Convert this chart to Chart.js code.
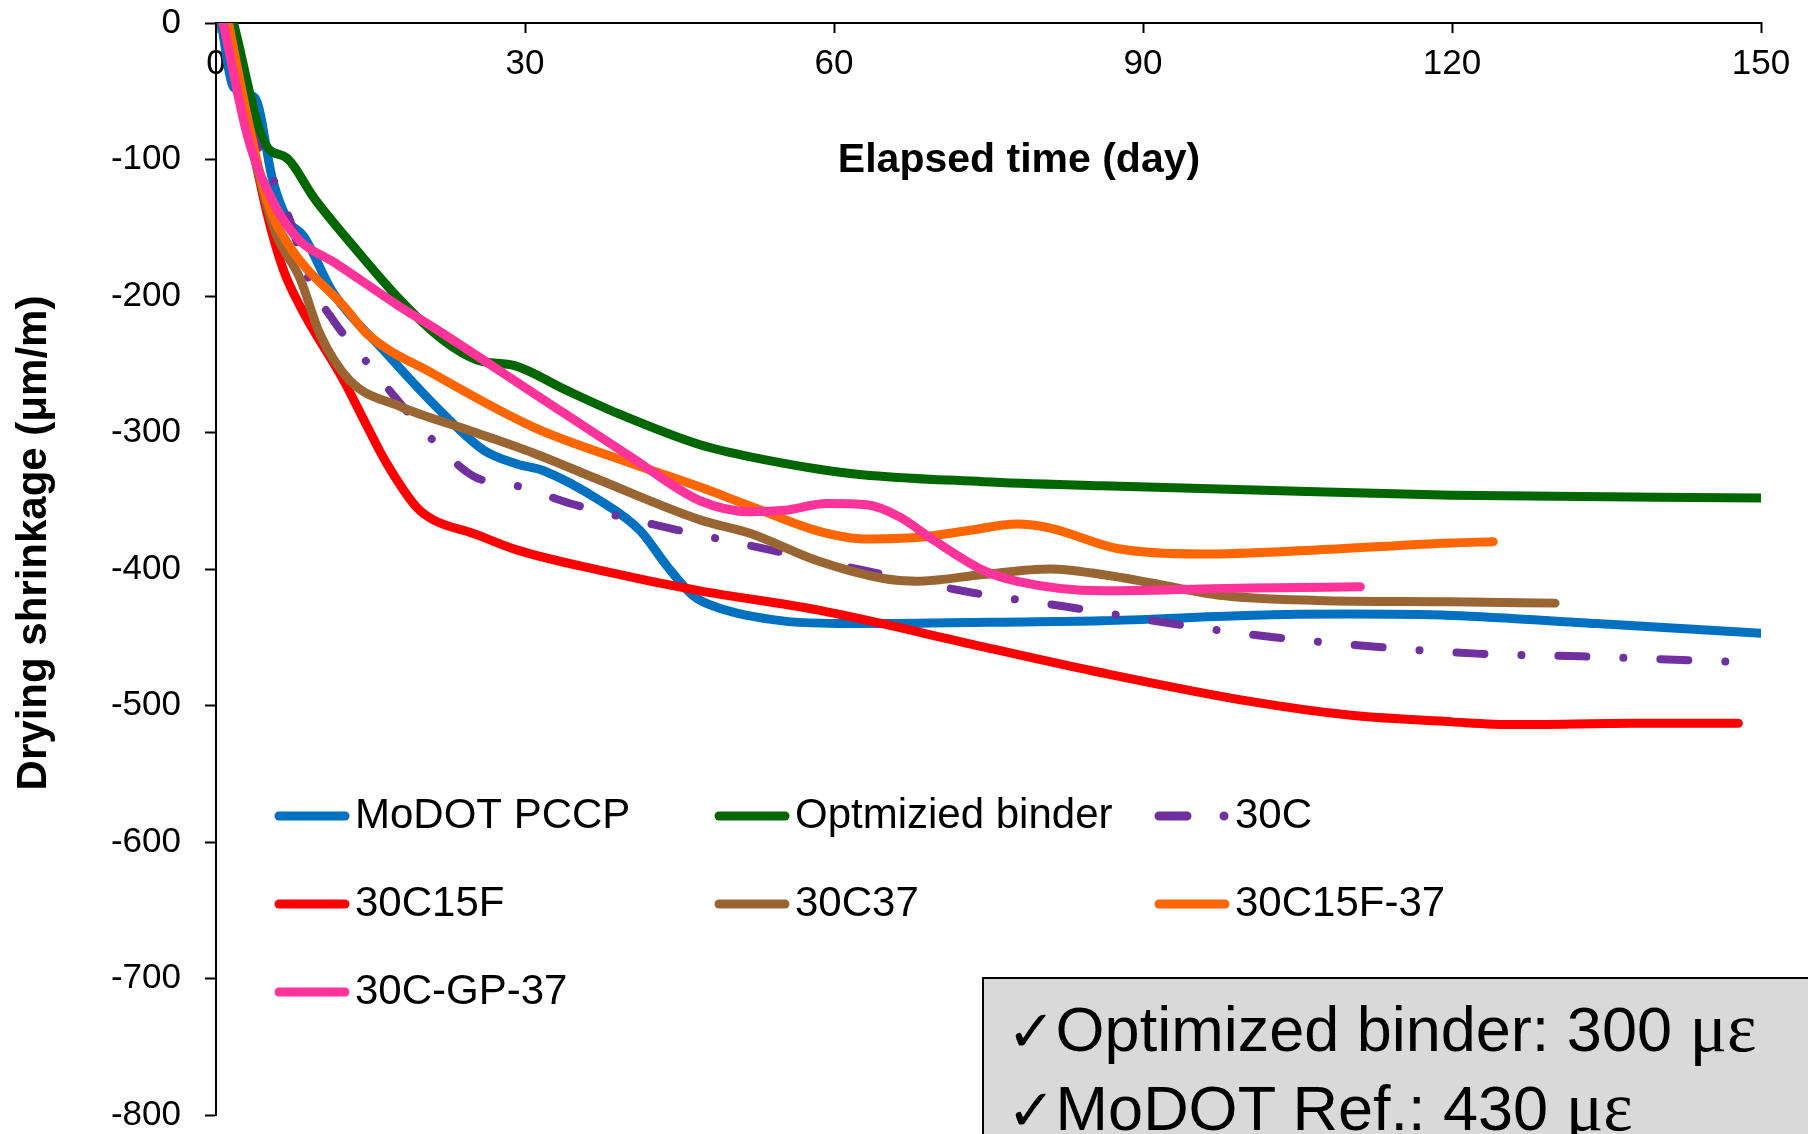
<!DOCTYPE html>
<html>
<head>
<meta charset="utf-8">
<title>Drying shrinkage</title>
<script src="https://cdn.jsdelivr.net/npm/chart.js@4.4.0/dist/chart.umd.min.js"></script>
<style>
  html, body { margin: 0; padding: 0; background: #fff; overflow: hidden; }
  #wrap { position: relative; width: 1808px; height: 1134px; overflow: hidden; }
  #noteBox {
    position: absolute; left: 982px; top: 977px; width: 900px; height: 240px;
    box-sizing: border-box; background: #d9d9d9; border: 2px solid #000;
    padding: 11px 0 0 23px; color: #000; white-space: nowrap;
    font-family: 'Liberation Sans', Arial, sans-serif; font-size: 63px; line-height: 76px;
  }
  #noteBox .chk { font-family: 'DejaVu Sans', sans-serif; font-size: 58px; }
  #noteBox .unit { font-family: 'Liberation Serif', 'Times New Roman', serif; font-size: 70px; }
</style>
</head>
<body>
<div id="wrap">
  <canvas id="shrinkChart" width="1808" height="1134"></canvas>
  <div id="noteBox">
    <div><span class="chk">✓</span>Optimized binder: 300 <span class="unit">με</span></div>
    <div><span class="chk">✓</span>MoDOT Ref.: 430 <span class="unit">με</span></div>
  </div>
</div>
<script>
const FONT = "'Liberation Sans', Arial, sans-serif";

// axis ticks
const dayTicks = [0, 30, 60, 90, 120, 150];
const shrinkTicks = [0, -100, -200, -300, -400, -500, -600, -700, -800];

const seriesNames = ['MoDOT PCCP', 'Optmizied binder', '30C', '30C15F', '30C37', '30C15F-37', '30C-GP-37'];

// elapsed days / shrinkage (µm/m) for each mix
const modotDays = [0.5, 1.7, 3.8, 5.5, 7, 8.5, 11.4, 16.3, 21.1, 26, 29.2, 31.8, 37.3, 41.2, 43.8, 46.4, 48.6, 55, 61.6, 75, 86, 100, 110, 120, 134, 150];
const modotVals = [0, -47, -55, -115, -145, -156, -198, -240, -279, -313, -323, -328, -350, -372, -398, -420, -428, -438, -440, -439, -438, -434, -433, -434, -440, -447];

const optDays = [1.7, 4.8, 6.9, 9.5, 13.5, 17.9, 22, 25.4, 29, 34, 39, 47, 52, 61.6, 74.5, 86, 100, 120, 150];
const optVals = [0, -89, -99, -128, -165, -203, -232, -247, -251, -269, -286, -309, -318, -330, -336, -339, -342, -346, -348];

const c30Days = [0.7, 3, 5.7, 7.2, 8.9, 11.4, 14.7, 17.6, 21.1, 25, 29.7, 34.4, 44, 53.8, 63.5, 73.2, 82.9, 92.8, 102.7, 112.6, 122.4, 132.4, 147.3];
const c30Vals = [0, -70, -117, -145, -186, -218, -249, -276, -306, -332, -340, -352, -370, -386, -402, -417, -428, -440, -450, -457, -462, -464, -468];

const c30f15Days = [0.7, 2.2, 3.7, 5, 6.5, 8.2, 12.4, 14.7, 16.6, 19.5, 21.1, 25, 29.2, 37.3, 47, 58.4, 74.5, 86, 100.4, 110, 120, 126, 137.6, 147.8];
const c30f15Vals = [0, -50, -97, -141, -180, -208, -262, -296, -323, -355, -364, -374, -386, -401, -416, -430, -457, -476, -497, -507, -512, -514, -513, -513];

const c30s37Days = [1.2, 3.5, 5.6, 8.2, 10.1, 13, 17.9, 24.4, 30.8, 37.3, 47, 51.9, 58.4, 64.8, 68, 74.5, 81, 86, 90.7, 97.2, 106.9, 119.8, 130];
const c30s37Vals = [0, -90, -150, -188, -228, -262, -281, -298, -315, -335, -364, -374, -394, -407, -409, -404, -400, -404, -410, -419, -423, -424, -425];

const c30f15s37Days = [1.2, 3.5, 5, 7, 12.7, 14.7, 21.1, 30.8, 40.5, 47, 51.9, 58.4, 63.2, 68, 72.9, 77.8, 81, 87.5, 95.6, 106.9, 119.8, 124];
const c30f15s37Vals = [0, -85, -131, -162, -210, -228, -257, -296, -323, -340, -354, -372, -378, -377, -372, -367, -370, -385, -389, -386, -381, -380];

const gpDays = [0.7, 3.1, 5.9, 8.2, 11.4, 17.9, 21.1, 30.8, 40.5, 47, 51.9, 55.2, 59.3, 63.2, 66.4, 69.7, 74.5, 77.8, 86, 100.4, 111.1];
const gpVals = [0, -84, -136, -160, -175, -208, -223, -271, -319, -350, -358, -357, -352, -353, -362, -379, -401, -409, -416, -414, -413];

const seriesDays = [modotDays, optDays, c30Days, c30f15Days, c30s37Days, c30f15s37Days, gpDays];
const seriesVals = [modotVals, optVals, c30Vals, c30f15Vals, c30s37Vals, c30f15s37Vals, gpVals];

const seriesColors = ['#0070C0', '#006600', '#7030A0', '#FF0000', '#996633', '#FF6600', '#FF3399'];
const dashDot = [28, 37, 0.01, 37];

const datasets = seriesNames.map((name, i) => ({
    label: name,
    data: seriesDays[i].map((d, k) => ({ x: d, y: seriesVals[i][k] })),
    borderColor: seriesColors[i],
    borderWidth: i === 2 ? 8 : 9,
    borderDash: i === 2 ? dashDot : [],
    borderCapStyle: 'round',
    borderJoinStyle: 'round',
    cubicInterpolationMode: 'monotone',
    pointRadius: 0,
    fill: false,
    order: seriesNames.length - i   // last series ends up on top
}));

// legend laid out in three fixed columns inside the plot
const gridLegend = {
    id: 'gridLegend',
    afterDraw(chart) {
        const { ctx, chartArea } = chart;
        ctx.save();
        ctx.font = '42px ' + FONT;
        ctx.textBaseline = 'middle';
        ctx.textAlign = 'left';
        chart.data.datasets.forEach((ds, i) => {
            const x0 = chartArea.left + 63 + (i % 3) * 440;
            const y = chartArea.top + 793 + Math.floor(i / 3) * 88;
            ctx.beginPath();
            ctx.strokeStyle = ds.borderColor;
            ctx.lineWidth = 9;
            ctx.lineCap = 'round';
            ctx.setLineDash(ds.borderDash);
            ctx.moveTo(x0, y);
            ctx.lineTo(x0 + 66, y);
            ctx.stroke();
            ctx.setLineDash([]);
            ctx.fillStyle = '#000';
            ctx.fillText(ds.label, x0 + 76, y);
        });
        ctx.restore();
    }
};

// axis titles sit inside / beside the plot rather than centred on the axes
const axisTitles = {
    id: 'axisTitles',
    afterDraw(chart) {
        const { ctx, chartArea } = chart;
        ctx.save();
        ctx.fillStyle = '#000';
        ctx.font = 'bold 41px ' + FONT;
        ctx.textAlign = 'center';
        ctx.textBaseline = 'middle';
        ctx.fillText('Elapsed time (day)', chartArea.left + 803, chartArea.top + 138);
        ctx.translate(34, chartArea.top + 520);
        ctx.rotate(-Math.PI / 2);
        ctx.font = 'bold 42px ' + FONT;
        ctx.fillText('Drying shrinkage (μm/m)', 0, 0);
        ctx.restore();
    }
};

Chart.defaults.font.family = FONT;
Chart.defaults.color = '#000';

new Chart(document.getElementById('shrinkChart'), {
    type: 'line',
    data: { datasets: datasets },
    options: {
        responsive: false,
        animation: false,
        devicePixelRatio: 1,
        layout: { padding: { left: 0, top: 0, right: 47, bottom: 19 } },
        plugins: {
            legend: { display: false },
            tooltip: { enabled: false }
        },
        scales: {
            x: {
                type: 'linear',
                position: 'top',
                min: 0,
                max: 150,
                afterBuildTicks: s => { s.ticks = dayTicks.map(v => ({ value: v })); },
                afterFit: s => {
                    s.height = 23;
                    s.paddingLeft = 0;
                    s.paddingRight = 0;
                },
                grid: { drawOnChartArea: false, tickLength: -10, tickColor: '#000', tickWidth: 2 },
                border: { color: '#000', width: 2 },
                // labels hang below the axis line, inside the plot
                ticks: { mirror: true, padding: 20, maxRotation: 0, autoSkip: false, color: '#000', font: { size: 35 } }
            },
            y: {
                type: 'linear',
                position: 'left',
                min: -800,
                max: 0,
                afterBuildTicks: s => { s.ticks = shrinkTicks.map(v => ({ value: v })); },
                afterFit: s => {
                    s.width = 216;
                    s.paddingTop = 0;
                    s.paddingBottom = 0;
                },
                grid: { drawOnChartArea: false, tickLength: 11, tickColor: '#000', tickWidth: 2 },
                border: { color: '#000', width: 2 },
                ticks: { padding: 24, color: '#000', font: { size: 35, lineHeight: 1 } }
            }
        }
    },
    plugins: [gridLegend, axisTitles]
});
</script>
</body>
</html>
